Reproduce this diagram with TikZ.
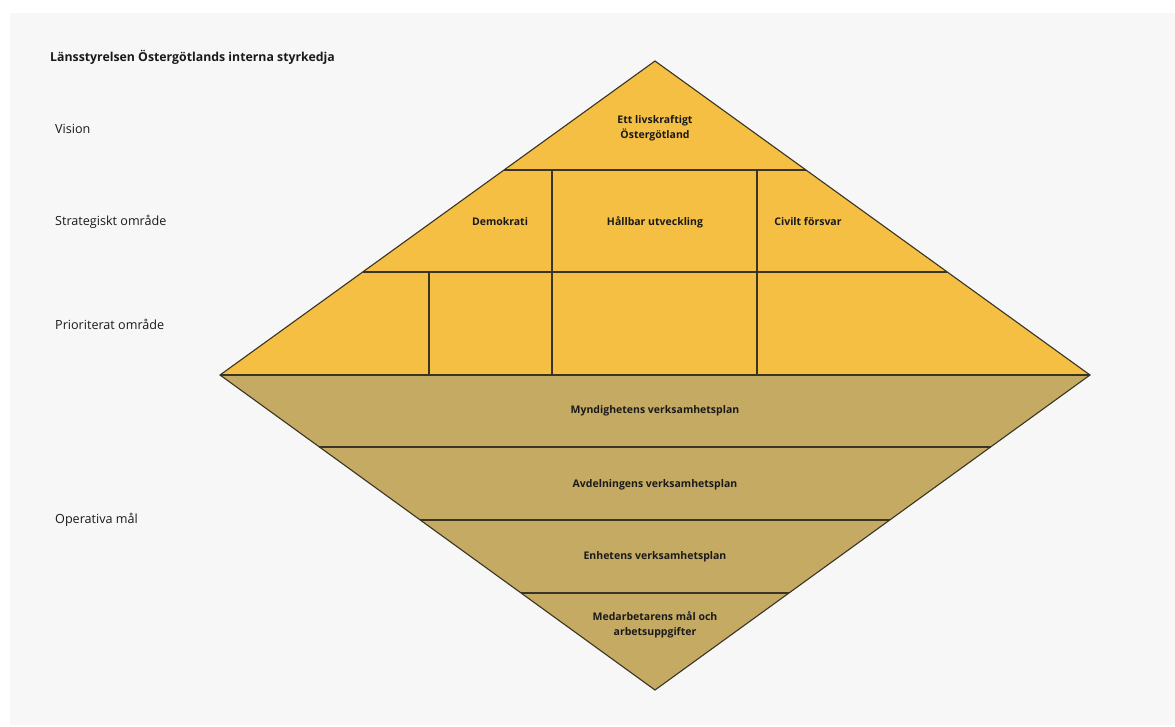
\documentclass[tikz,border=0pt]{standalone}
\usepackage{fontspec}
\setmainfont{Open Sans}
\definecolor{panel}{HTML}{F7F7F7}
\definecolor{gold}{HTML}{F4BF42}
\definecolor{tan}{HTML}{C4AA62}
\definecolor{edge}{HTML}{3A3424}
\definecolor{ink}{HTML}{1A1A1A}
\begin{document}
\begin{tikzpicture}[x=1pt,y=-1pt,
  edgeline/.style={draw=edge,line width=1.1pt},
  sidelabel/.style={anchor=west,inner sep=0pt,font=\fontsize{12.6}{14}\selectfont,text=ink},
  celllabel/.style={inner sep=0pt,align=center,font=\fontsize{10.5}{15}\selectfont\bfseries,text=ink},
  titlelabel/.style={anchor=west,inner sep=0pt,font=\fontsize{12.3}{14}\selectfont\bfseries,text=ink}]
\useasboundingbox (0,0) rectangle (1175,726);
\fill[white] (0,0) rectangle (1175,726);
\fill[panel] (10,13) rectangle (1175,725);
\coordinate (T) at (655,61);
\coordinate (L) at (220,375);
\coordinate (R) at (1090,375);
\coordinate (B) at (655,690);
\fill[gold] (T) -- (R) -- (L) -- cycle;
\fill[tan] (L) -- (R) -- (B) -- cycle;
% upper rows
\draw[edgeline] (504,170) -- (806,170);
\draw[edgeline] (362.7,272) -- (947.3,272);
\draw[edgeline] (552,170) -- (552,375);
\draw[edgeline] (757,170) -- (757,375);
\draw[edgeline] (429,272) -- (429,375);
% lower rows
\draw[edgeline] (319.4,447) -- (990.6,447);
\draw[edgeline] (420.2,520) -- (889.8,520);
\draw[edgeline] (521,593) -- (789,593);
% outline
\draw[edgeline,line join=miter] (T) -- (R) -- (B) -- (L) -- cycle;
\draw[draw=edge,line width=1.8pt] (L) -- (R);
% texts
\node[titlelabel] (title) at (50,57) {Länsstyrelsen Östergötlands interna styrkedja};
\node[sidelabel] (vision) at (55,129) {Vision};
\node[sidelabel] (strat) at (55,222) {Strategiskt område};
\node[sidelabel] (prio) at (55,324) {Prioriterat område};
\node[sidelabel] (oper) at (55,520) {Operativa mål};
\node[celllabel] (visiontext) at (655,128) {Ett livskraftigt\\Östergötland};
\node[celllabel] (demo) at (500,222) {Demokrati};
\node[celllabel] (hall) at (655,222) {Hållbar utveckling};
\node[celllabel] (civ) at (808,222) {Civilt försvar};
\node[celllabel] (mynd) at (655,411) {Myndighetens verksamhetsplan};
\node[celllabel] (avd) at (655,485) {Avdelningens verksamhetsplan};
\node[celllabel] (enh) at (655,557) {Enhetens verksamhetsplan};
\node[celllabel] (med) at (655,625) {Medarbetarens mål och\\arbetsuppgifter};
\end{tikzpicture}
\end{document}
